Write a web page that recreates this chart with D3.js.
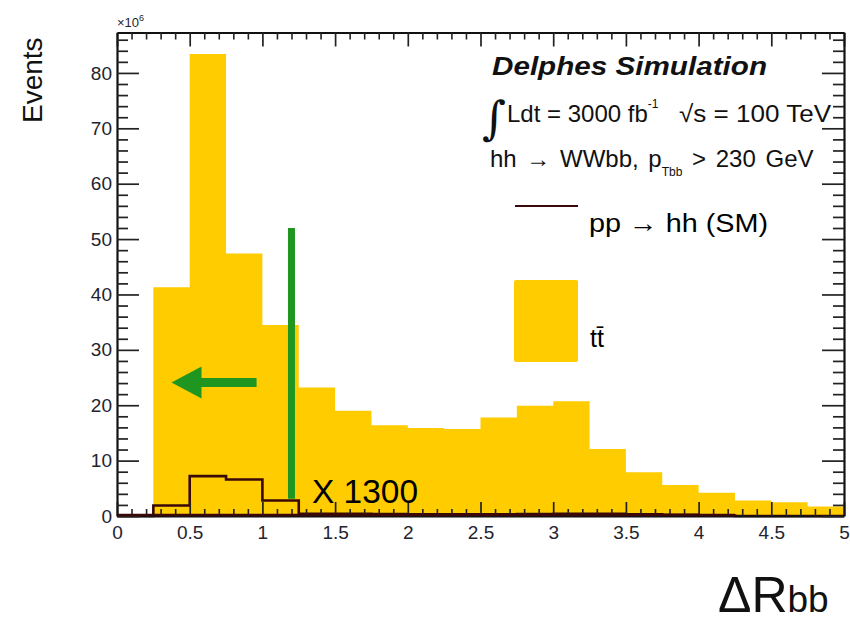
<!DOCTYPE html>
<html><head><meta charset="utf-8">
<script src="https://cdn.jsdelivr.net/npm/d3@7"></script>
<style>
  body { margin: 0; background: #fff; }
  svg { display: block; }
</style>
</head><body>
<svg id="chart" width="850" height="623"></svg>
<script>
// ΔR_bb bin edges (width 0.25)
const binEdges = [0, 0.25, 0.5, 0.75, 1, 1.25, 1.5, 1.75, 2, 2.25, 2.5,
                  2.75, 3, 3.25, 3.5, 3.75, 4, 4.25, 4.5, 4.75, 5];
// tt̄ background, events ×10^6 per bin
const ttbarEvents = [0, 41.3, 83.4, 47.4, 34.5, 23.2, 19.0, 16.4, 15.9, 15.7,
                     17.8, 19.9, 20.7, 12.1, 7.9, 5.6, 4.2, 2.8, 2.5, 1.7];
// pp → hh (SM) signal scaled by 1300, events ×10^6 per bin
const hhEvents = [0, 1.9, 7.2, 6.6, 2.8, 0.4, 0.4, 0.35, 0.3, 0.3,
                  0.3, 0.35, 0.4, 0.4, 0.3, 0.2, 0.1, 0, 0, 0];
const signalScale = 1300;
// axis ticks
const xMajorTicks = [0, 0.5, 1, 1.5, 2, 2.5, 3, 3.5, 4, 4.5, 5];
const xTickLabels = ["0", "0.5", "1", "1.5", "2", "2.5", "3", "3.5", "4", "4.5", "5"];
const yMajorTicks = [0, 10, 20, 30, 40, 50, 60, 70, 80];
const yTickLabels = ["0", "10", "20", "30", "40", "50", "60", "70", "80"];
// ΔR_bb cut and selected side
const cutValue = 1.2;
const cutLineSpan = [3.1, 52];
const arrowY = 24.1;
const arrowSpan = [0.96, 0.375];

const svg = d3.select("#chart");
const x = d3.scaleLinear().domain([0, 5]).range([117, 844]);
const y = d3.scaleLinear().domain([0, 87.3]).range([516, 32.5]);

const YELLOW = "#ffcc00", GREEN = "#1f961f", MAROON = "#3a0808", INK = "#23232e";
const rootFont = "'Liberation Sans', Arial, Helvetica, sans-serif";
const slideFont = "'Liberation Sans', Helvetica, Arial, sans-serif";

// step points for a histogram
const steps = vals => binEdges.map((e, i) => ({ x: e, v: vals[Math.min(i, vals.length - 1)] }));

// tt̄ filled histogram
svg.append("path")
  .datum(steps(ttbarEvents))
  .attr("fill", YELLOW)
  .attr("d", d3.area().curve(d3.curveStepAfter)
    .x(d => x(d.x)).y0(y(0)).y1(d => y(d.v)));

// hh outline histogram
svg.append("path")
  .datum(steps(hhEvents))
  .attr("fill", "none")
  .attr("stroke", MAROON)
  .attr("stroke-width", 2.6)
  .attr("d", d3.line().curve(d3.curveStepAfter).x(d => x(d.x)).y(d => y(d.v)));

// minor tick values
const xMinor = d3.range(0, 5.0001, 0.1).map(v => +v.toFixed(2)).filter(v => !xMajorTicks.includes(v));
const yMinor = d3.range(0, 87, 2).filter(v => v % 10 !== 0);

function styleAxis(g) {
  g.select(".domain").attr("stroke", "#111").attr("stroke-width", 2.2);
  g.selectAll(".tick line").attr("stroke", "#222").attr("stroke-width", 1.7);
}

// bottom axis
const gx = svg.append("g").attr("transform", `translate(0,${y(0)})`)
  .call(d3.axisBottom(x).tickValues(xMajorTicks).tickSizeInner(-14).tickSizeOuter(0)
    .tickPadding(10).tickFormat((d, i) => xTickLabels[i]));
svg.append("g").attr("transform", `translate(0,${y(0)})`)
  .call(d3.axisBottom(x).tickValues(xMinor).tickSizeInner(-7).tickSizeOuter(0).tickFormat(""))
  .call(g => g.select(".domain").remove())
  .selectAll(".tick line").attr("stroke", "#222").attr("stroke-width", 1.6);
styleAxis(gx);
gx.selectAll("text").attr("font-family", rootFont).attr("font-size", 19).attr("fill", INK);

// top axis
const gt = svg.append("g").attr("transform", `translate(0,${y.range()[1]})`)
  .call(d3.axisTop(x).tickValues(xMajorTicks).tickSizeInner(-14).tickSizeOuter(0).tickFormat(""));
svg.append("g").attr("transform", `translate(0,${y.range()[1]})`)
  .call(d3.axisTop(x).tickValues(xMinor).tickSizeInner(-7).tickSizeOuter(0).tickFormat(""))
  .call(g => g.select(".domain").remove())
  .selectAll(".tick line").attr("stroke", "#222").attr("stroke-width", 1.6);
styleAxis(gt);

// left axis
const gy = svg.append("g").attr("transform", `translate(${x(0)},0)`)
  .call(d3.axisLeft(y).tickValues(yMajorTicks).tickSizeInner(-22).tickSizeOuter(0)
    .tickPadding(5).tickFormat((d, i) => yTickLabels[i]));
svg.append("g").attr("transform", `translate(${x(0)},0)`)
  .call(d3.axisLeft(y).tickValues(yMinor).tickSizeInner(-11).tickSizeOuter(0).tickFormat(""))
  .call(g => g.select(".domain").remove())
  .selectAll(".tick line").attr("stroke", "#222").attr("stroke-width", 1.7);
styleAxis(gy);
gy.selectAll("text").attr("font-family", rootFont).attr("font-size", 19).attr("fill", INK);

// right axis
const gr = svg.append("g").attr("transform", `translate(${x(5)},0)`)
  .call(d3.axisRight(y).tickValues(yMajorTicks).tickSizeInner(-22).tickSizeOuter(0).tickFormat(""));
svg.append("g").attr("transform", `translate(${x(5)},0)`)
  .call(d3.axisRight(y).tickValues(yMinor).tickSizeInner(-11).tickSizeOuter(0).tickFormat(""))
  .call(g => g.select(".domain").remove())
  .selectAll(".tick line").attr("stroke", "#222").attr("stroke-width", 1.7);
styleAxis(gr);

// hh baseline drawn over the axis
svg.append("line")
  .attr("x1", x(0)).attr("x2", x(binEdges[17])).attr("y1", y(0) - 1).attr("y2", y(0) - 1)
  .attr("stroke", MAROON).attr("stroke-width", 2.4);

// exponent label
const ex = svg.append("text").attr("x", x(0)).attr("y", 27)
  .attr("font-family", rootFont).attr("font-size", 13).attr("fill", INK);
ex.append("tspan").text("×10");
ex.append("tspan").attr("dy", -6).attr("font-size", 9).text("6");

// cut line and arrow
svg.append("line")
  .attr("x1", x(cutValue)).attr("x2", x(cutValue))
  .attr("y1", y(cutLineSpan[0])).attr("y2", y(cutLineSpan[1]))
  .attr("stroke", GREEN).attr("stroke-width", 7);
const ay = y(arrowY), ax0 = x(arrowSpan[0]), ax1 = x(arrowSpan[1]);
svg.append("line")
  .attr("x1", ax0).attr("x2", ax1 + 28).attr("y1", ay).attr("y2", ay)
  .attr("stroke", GREEN).attr("stroke-width", 9);
svg.append("path")
  .attr("d", `M${ax1},${ay} L${ax1 + 30},${ay - 16} L${ax1 + 30},${ay + 16} Z`)
  .attr("fill", GREEN);

svg.append("text").attr("x", 312).attr("y", 503)
  .attr("font-family", slideFont).attr("font-size", 33).attr("fill", "#000")
  .attr("textLength", 106).attr("lengthAdjust", "spacingAndGlyphs")
  .text("X " + signalScale);

// header text
svg.append("text").attr("x", 492).attr("y", 75)
  .attr("font-family", rootFont).attr("font-size", 26).attr("font-weight", "bold")
  .attr("font-style", "italic").attr("fill", "#111")
  .attr("textLength", 275).attr("lengthAdjust", "spacingAndGlyphs")
  .text("Delphes Simulation");

svg.append("text").attr("x", 482).attr("y", 134)
  .attr("font-family", "'DejaVu Serif', serif").attr("font-size", 46).attr("font-style", "italic")
  .attr("fill", "#111").text("∫");
const l2 = svg.append("text").attr("x", 507).attr("y", 122)
  .attr("font-family", rootFont).attr("font-size", 24).attr("fill", "#111");
l2.append("tspan").text("Ldt = 3000 fb");
l2.append("tspan").attr("dy", -14).attr("font-size", 12).text("-1");
svg.append("text").attr("x", 679).attr("y", 122)
  .attr("font-family", rootFont).attr("font-size", 24).attr("fill", "#111")
  .attr("textLength", 152).attr("lengthAdjust", "spacingAndGlyphs")
  .text("√s = 100 TeV");

const l3 = svg.append("text").attr("x", 490).attr("y", 167)
  .attr("font-family", rootFont).attr("font-size", 24).attr("fill", "#111")
  .attr("word-spacing", 3);
l3.append("tspan").text("hh →  WWbb, p");
l3.append("tspan").attr("dy", 9).attr("font-size", 12).text("Tbb");
l3.append("tspan").attr("dy", -9).attr("font-size", 24).text(" > 230 GeV");

// legend
svg.append("line").attr("x1", 515).attr("x2", 578).attr("y1", 206).attr("y2", 206)
  .attr("stroke", MAROON).attr("stroke-width", 2);
svg.append("text").attr("x", 589).attr("y", 232)
  .attr("font-family", slideFont).attr("font-size", 26).attr("fill", "#000")
  .attr("textLength", 179).attr("lengthAdjust", "spacingAndGlyphs")
  .text("pp → hh (SM)");
svg.append("rect").attr("x", 514).attr("y", 280).attr("width", 64).attr("height", 82)
  .attr("rx", 2).attr("fill", YELLOW);
svg.append("text").attr("x", 590).attr("y", 347)
  .attr("font-family", slideFont).attr("font-size", 25).attr("fill", "#000")
  .text("tt\u0304");

// axis titles
svg.append("text")
  .attr("transform", "translate(42,123) rotate(-90)")
  .attr("font-family", slideFont).attr("font-size", 28).attr("fill", "#111")
  .text("Events");
const xt = svg.append("text").attr("x", 718).attr("y", 612)
  .attr("font-family", slideFont).attr("font-size", 50).attr("fill", "#111");
xt.append("tspan").text("ΔR");
xt.append("tspan").attr("font-size", 37).text("bb");
</script>
</body></html>
